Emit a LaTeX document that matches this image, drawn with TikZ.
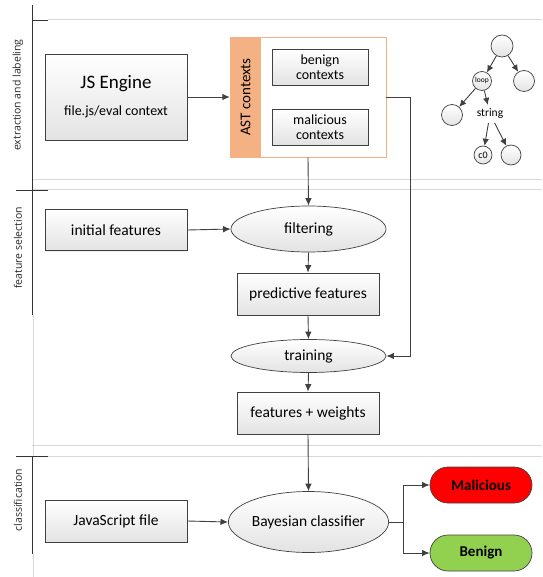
\documentclass[tikz,border=0pt]{standalone}
\usepackage{fontspec}
\setmainfont{Carlito}
\newfontfamily\lanefont{Open Sans}
\usetikzlibrary{arrows.meta,shapes.geometric,shadows}
\definecolor{edge}{HTML}{404040}
\definecolor{lanegrey}{HTML}{D9D9D9}
\definecolor{astorange}{HTML}{F4B183}
\definecolor{malred}{HTML}{FF0000}
\definecolor{bengreen}{HTML}{92D050}
\tikzset{
  grad/.style={top color=white, bottom color=black!11},
  boxnode/.style={draw=edge, line width=0.7pt, grad, rectangle, inner sep=2pt,
    font=\fontsize{15.5}{18}\selectfont, drop shadow={opacity=0.12, shadow xshift=1.2pt, shadow yshift=-1.2pt}},
  ellnode/.style={draw=edge, line width=0.7pt, grad, ellipse, inner sep=0pt,
    font=\fontsize{15.5}{18}\selectfont},
  treenode/.style={draw=edge, line width=0.7pt, grad, circle, inner sep=0pt},
  pill/.style={draw=edge, line width=0.7pt, rounded corners=18pt, rectangle,
    minimum width=102pt, minimum height=36pt, font=\bfseries\fontsize{15}{17}\selectfont},
  conn/.style={draw=edge, line width=0.9pt, -{Latex[length=7.5pt,width=6.5pt]}},
  treeconn/.style={draw=edge, line width=0.9pt, -{Latex[length=7pt,width=6.5pt]}},
  lanelbl/.style={rotate=90, font=\lanefont\fontsize{10.5}{12}\selectfont, text=black!85},
  lanedark/.style={draw=black!80, line width=0.8pt},
  laneline/.style={draw=lanegrey, line width=1pt}
}
\begin{document}
\begin{tikzpicture}[x=1pt,y=-1pt]
\useasboundingbox (0,0) rectangle (542,577);
% swimlane frame
\draw[laneline] (48,20) -- (542,20);
\draw[laneline] (32,180) -- (542,180);
\draw[laneline] (32,190) -- (542,190);
\draw[laneline] (32,445) -- (542,445);
\draw[laneline] (32,456) -- (542,456);
\draw[laneline] (33,315) -- (33,456);
\draw[laneline] (33,554) -- (33,577);
\draw[lanedark] (32,5) -- (32,315);
\draw[lanedark] (32,456) -- (32,554);
\draw[lanedark] (32,20) -- (48,20);
\draw[lanedark] (16,190) -- (48,190);
\draw[lanedark] (16,456) -- (48,456);
\node[lanelbl] (lane1) at (18,95) {extraction and labeling};
\node[lanelbl] (lane2) at (18,248) {feature selection};
\node[lanelbl] (lane3) at (18,500) {classification};

% lane 1
\node[boxnode, minimum width=142pt, minimum height=86pt, align=center] (js) at (116,97)
  {{\fontsize{19}{21}\selectfont JS Engine}\\[9pt]{\fontsize{14}{16}\selectfont file.js/eval context}};
\node[draw=astorange, line width=0.8pt, fill=white, minimum width=156pt, minimum height=120pt,
  drop shadow={opacity=0.12, shadow xshift=1.2pt, shadow yshift=-1.2pt}] (ast) at (308,97) {};
\node[fill=astorange, minimum width=31pt, minimum height=120pt, inner sep=0pt] (aststrip) at (245.5,97) {};
\node[rotate=90, font=\fontsize{15}{17}\selectfont] (astlbl) at (aststrip) {AST contexts};
\node[boxnode, minimum width=96pt, minimum height=36pt, align=center, font=\fontsize{14}{15}\selectfont] (benign) at (320,67) {benign\\contexts};
\node[boxnode, minimum width=96pt, minimum height=36pt, align=center, font=\fontsize{14}{15}\selectfont] (malctx) at (320,127) {malicious\\contexts};

% tree
\node[treenode, minimum size=22pt] (t0) at (502,46) {};
\node[treenode, minimum size=19pt, font=\fontsize{7.5}{8}\selectfont] (tloop) at (482,81) {loop};
\node[treenode, minimum size=21pt] (tr) at (524,81) {};
\node[treenode, minimum size=21pt] (tll) at (452,115) {};
\node[ellipse, fill=white, minimum width=34pt, minimum height=18pt, inner sep=0pt, font=\fontsize{11.5}{13}\selectfont] (tstr) at (490,114) {string};
\node[treenode, minimum size=18pt, font=\fontsize{10}{11}\selectfont] (tc0) at (483,155) {c0};
\node[treenode, minimum size=20pt] (tcr) at (511,155) {};
\draw[treeconn] (t0) -- (tloop);
\draw[treeconn] (t0) -- (tr);
\draw[treeconn] (tloop) -- (tll);
\draw[treeconn] (tloop) -- (tstr);
\draw[treeconn] (tstr) -- (tc0);
\draw[treeconn] (tstr) -- (tcr);

% lane 2
\node[boxnode, minimum width=142pt, minimum height=41pt] (init) at (116,230) {initial features};
\node[ellnode, minimum width=155pt, minimum height=46pt] (filter) at (308.5,229) {filtering};
\node[boxnode, minimum width=142pt, minimum height=42pt] (pred) at (308,294) {predictive features};
\node[ellnode, minimum width=155pt, minimum height=33pt] (train) at (308.5,356) {training};
\node[boxnode, minimum width=142pt, minimum height=42pt] (fw) at (308,413) {features + weights};

% lane 3
\node[boxnode, minimum width=142pt, minimum height=42pt] (jsfile) at (116,521) {JavaScript file};
\node[ellnode, minimum width=155pt, minimum height=61pt] (bayes) at (308.5,522) {Bayesian classifier};
\node[pill, fill=malred] (mal) at (481,485) {Malicious};
\node[pill, fill=bengreen] (ben) at (481,553) {Benign};

% connectors
\coordinate (c1) at (410,97);
\coordinate (br) at (403,522);
\draw[conn] (js.east) -- (aststrip.west);
\draw[conn] (ast.south) -- (filter.north);
\draw[conn] (ast.east) -- (c1) |- (train.east);
\draw[conn] (init.east) -- (filter.west);
\draw[conn] (filter.south) -- (pred.north);
\draw[conn] (pred.south) -- (train.north);
\draw[conn] (train.south) -- (fw.north);
\draw[conn] (fw.south) -- (bayes.north);
\draw[conn] (jsfile.east) -- (bayes.west);
\draw[draw=edge, line width=0.9pt] (bayes.east) -- (br);
\draw[conn] (br) |- (mal.west);
\draw[conn] (br) |- (ben.west);
\end{tikzpicture}
\end{document}
